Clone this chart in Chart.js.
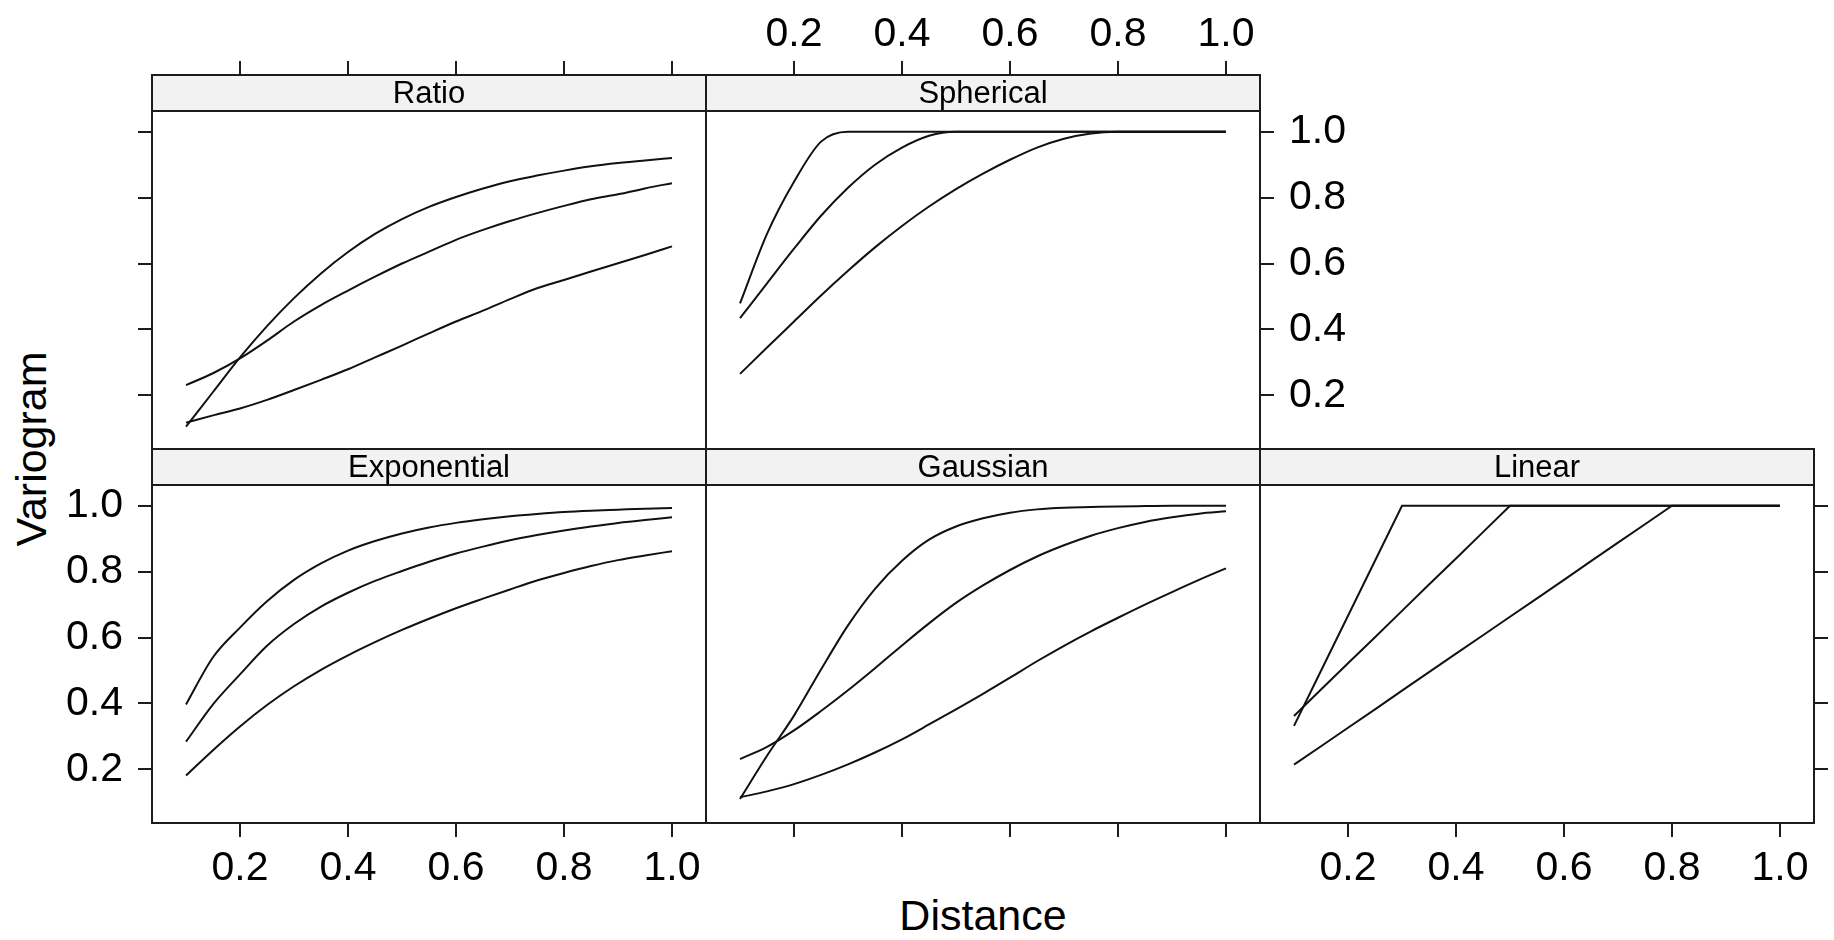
<!DOCTYPE html>
<html>
<head>
<meta charset="utf-8">
<title>Variogram models</title>
<script src="https://cdn.jsdelivr.net/npm/chart.js@4.4.1/dist/chart.umd.min.js"></script>
<style>
  body { margin: 0; background: #fff; }
  #wrap { position: relative; width: 1834px; height: 940px; overflow: hidden; }
  #wrap canvas { position: absolute; left: 0; top: 0; }
  .axis-title {
    position: absolute;
    font-family: "Liberation Sans", Arial, Helvetica, sans-serif;
    font-size: 43px; line-height: 43px; color: #000; white-space: nowrap;
  }
  #ylab { left: 31px; top: 449px; transform: translate(-50%, -50%) rotate(-90deg); }
  #xlab { left: 983px; top: 915px; transform: translate(-50%, -50%); }
</style>
</head>
<body>
<div id="wrap">
  <div class="axis-title" id="ylab">Variogram</div>
  <div class="axis-title" id="xlab">Distance</div>
</div>
<script>
// distances where the curves are read
const distance = [0.10, 0.15, 0.20, 0.25, 0.30, 0.35, 0.40, 0.45, 0.50, 0.55,
                  0.60, 0.65, 0.70, 0.75, 0.80, 0.85, 0.90, 0.95, 1.00];

// variogram values, three ranges per model
const ratioShort = [0.105, 0.21, 0.315, 0.41, 0.495, 0.57, 0.635, 0.69, 0.735, 0.772,
                    0.802, 0.828, 0.85, 0.867, 0.882, 0.895, 0.905, 0.913, 0.92];
const ratioMid   = [0.231, 0.267, 0.312, 0.366, 0.424, 0.474, 0.518, 0.56, 0.60, 0.636,
                    0.672, 0.702, 0.729, 0.753, 0.775, 0.795, 0.81, 0.828, 0.844];
const ratioLong  = [0.117, 0.139, 0.16, 0.186, 0.216, 0.247, 0.279, 0.315, 0.351, 0.388,
                    0.424, 0.457, 0.492, 0.525, 0.55, 0.576, 0.601, 0.626, 0.652];

const sphShort = [0.479, 0.69, 0.848, 0.97, 1, 1, 1, 1, 1, 1, 1, 1, 1, 1, 1, 1, 1, 1, 1];
const sphMid   = [0.434, 0.54, 0.645, 0.745, 0.83, 0.90, 0.952, 0.988, 1, 1,
                  1, 1, 1, 1, 1, 1, 1, 1, 1];
const sphLong  = [0.265, 0.345, 0.424, 0.503, 0.578, 0.649, 0.714, 0.773, 0.826, 0.873,
                  0.915, 0.952, 0.979, 0.995, 1, 1, 1, 1, 1];

const expShort = [0.397, 0.54, 0.63, 0.71, 0.775, 0.825, 0.864, 0.893, 0.916, 0.934,
                  0.948, 0.959, 0.968, 0.975, 0.981, 0.985, 0.988, 0.991, 0.993];
const expMid   = [0.284, 0.397, 0.488, 0.575, 0.641, 0.694, 0.736, 0.772, 0.802, 0.83,
                  0.855, 0.876, 0.895, 0.911, 0.925, 0.937, 0.948, 0.957, 0.965];
const expLong  = [0.181, 0.258, 0.33, 0.395, 0.452, 0.502, 0.546, 0.586, 0.623, 0.657,
                  0.689, 0.718, 0.746, 0.773, 0.796, 0.817, 0.835, 0.849, 0.862];

const gauShort = [0.11, 0.241, 0.363, 0.503, 0.637, 0.748, 0.833, 0.897, 0.937, 0.962,
                  0.979, 0.989, 0.994, 0.996, 0.998, 0.999, 1, 1, 1];
const gauMid   = [0.231, 0.268, 0.318, 0.377, 0.44, 0.507, 0.576, 0.643, 0.705, 0.758,
                  0.805, 0.846, 0.88, 0.909, 0.932, 0.951, 0.965, 0.976, 0.983];
const gauLong  = [0.115, 0.133, 0.155, 0.183, 0.215, 0.251, 0.291, 0.336, 0.382, 0.429,
                  0.478, 0.528, 0.575, 0.619, 0.66, 0.70, 0.738, 0.775, 0.81];

const linShort = [0.332, 0.499, 0.666, 0.833, 1, 1, 1, 1, 1, 1, 1, 1, 1, 1, 1, 1, 1, 1, 1];
const linMid   = [0.362, 0.442, 0.522, 0.601, 0.681, 0.761, 0.84, 0.92, 1, 1,
                  1, 1, 1, 1, 1, 1, 1, 1, 1];
const linLong  = [0.214, 0.27, 0.326, 0.382, 0.439, 0.495, 0.551, 0.607, 0.663, 0.719,
                  0.775, 0.832, 0.888, 0.944, 1, 1, 1, 1, 1];

const xTicks = [0.2, 0.4, 0.6, 0.8, 1.0];
const yTicks = [0.2, 0.4, 0.6, 0.8, 1.0];

// page geometry (lattice-like 3x2 layout, top-right cell empty)
const W = 1834, H = 940;
const COL_X = [152, 706, 1260];
const ROW_Y = [75, 449];          // strip tops
const PW = 554, SH = 36, PH = 338;
const X_MIN = 0.037, X_MAX = 1.063;
const Y_MIN = 0.037, Y_TOP = 1.063;
const Y_MAX = Y_TOP + SH * (Y_TOP - Y_MIN) / PH;   // room for the strip inside the chart area

// box size of each axis; labels are clipped to their box, so labelled axes get more room
const AX_SIZE = { left: 100, right: 100, top: 72, bottom: 90 };
const AX_BARE = 16;

const INK = '#1c1c1c';
const FONT = '"Liberation Sans", Arial, Helvetica, sans-serif';
Chart.defaults.font.family = FONT;

// axes: 'labels' = ticks + numbers, 'ticks' = tick marks only, missing = border only
const panels = [
  { name: 'Ratio',       col: 0, row: 0, curves: [ratioShort, ratioMid, ratioLong], smooth: true,
    axes: { left: 'ticks', top: 'ticks' } },
  { name: 'Spherical',   col: 1, row: 0, curves: [sphShort, sphMid, sphLong], smooth: true,
    axes: { top: 'labels', right: 'labels' } },
  { name: 'Exponential', col: 0, row: 1, curves: [expShort, expMid, expLong], smooth: true,
    axes: { left: 'labels', bottom: 'labels' } },
  { name: 'Gaussian',    col: 1, row: 1, curves: [gauShort, gauMid, gauLong], smooth: true,
    axes: { bottom: 'ticks' } },
  { name: 'Linear',      col: 2, row: 1, curves: [linShort, linMid, linLong], smooth: false,
    axes: { bottom: 'labels', right: 'ticks' } },
];

const axisSize = (kind, position) => kind === 'labels' ? AX_SIZE[position] : AX_BARE;

function axis(dir, position, kind, padding) {
  const isX = dir === 'x';
  const marks = kind === 'ticks' || kind === 'labels';
  const size = axisSize(kind, position);
  return {
    type: 'linear', axis: dir, position, display: true,
    min: isX ? X_MIN : Y_MIN,
    max: isX ? X_MAX : Y_MAX,
    afterBuildTicks: s => { s.ticks = (isX ? xTicks : yTicks).map(v => ({ value: v })); },
    afterFit: s => { if (isX) s.height = size; else s.width = size; },
    grid: { display: true, drawOnChartArea: false, drawTicks: marks, tickLength: 14,
            color: INK, lineWidth: 2 },
    border: { display: true, color: INK, width: 2 },
    ticks: { display: kind === 'labels', padding, color: '#000', font: { size: 41 },
             maxRotation: 0, autoSkip: false, callback: v => Number(v).toFixed(1) },
  };
}

// grey strip with the panel name, drawn at the top of each chart area
const stripPlugin = {
  id: 'strip',
  afterDraw(chart, args, opts) {
    const { ctx, chartArea: a } = chart;
    ctx.save();
    ctx.fillStyle = '#f2f2f2';
    ctx.fillRect(a.left, a.top, a.right - a.left, SH);
    ctx.strokeStyle = INK;
    ctx.lineWidth = 2;
    ctx.strokeRect(a.left, a.top, a.right - a.left, SH);
    ctx.fillStyle = '#000';
    ctx.font = '31px ' + FONT;
    ctx.textAlign = 'center';
    ctx.textBaseline = 'middle';
    ctx.fillText(opts.text, (a.left + a.right) / 2, a.top + SH / 2 + 1);
    ctx.restore();
  }
};

const wrap = document.getElementById('wrap');

panels.forEach(p => {
  const canvas = document.createElement('canvas');
  canvas.width = W;
  canvas.height = H;
  canvas.style.width = W + 'px';
  canvas.style.height = H + 'px';
  wrap.appendChild(canvas);

  const left = COL_X[p.col], top = ROW_Y[p.row];
  const right = left + PW, bottom = top + SH + PH;
  const pad = {
    left:   left - axisSize(p.axes.left, 'left'),
    top:    top - axisSize(p.axes.top, 'top'),
    right:  W - right - axisSize(p.axes.right, 'right'),
    bottom: H - bottom - axisSize(p.axes.bottom, 'bottom'),
  };

  new Chart(canvas, {
    type: 'line',
    data: {
      datasets: p.curves.map(vals => ({
        data: distance.map((d, i) => ({ x: d, y: vals[i] })),
        borderColor: '#111',
        borderWidth: 2,
        pointRadius: 0,
        fill: false,
        tension: p.smooth ? 0.4 : 0,
        cubicInterpolationMode: p.smooth ? 'monotone' : 'default',
      })),
    },
    options: {
      responsive: false,
      animation: false,
      devicePixelRatio: 1,
      events: [],
      layout: { padding: pad },
      plugins: { legend: { display: false }, tooltip: { enabled: false }, strip: { text: p.name } },
      scales: {
        x:  axis('x', 'bottom', p.axes.bottom, 7),
        x2: axis('x', 'top',    p.axes.top,    2),
        y:  axis('y', 'left',   p.axes.left,   15),
        y2: axis('y', 'right',  p.axes.right,  15),
      },
    },
    plugins: [stripPlugin],
  });
});
</script>
</body>
</html>
